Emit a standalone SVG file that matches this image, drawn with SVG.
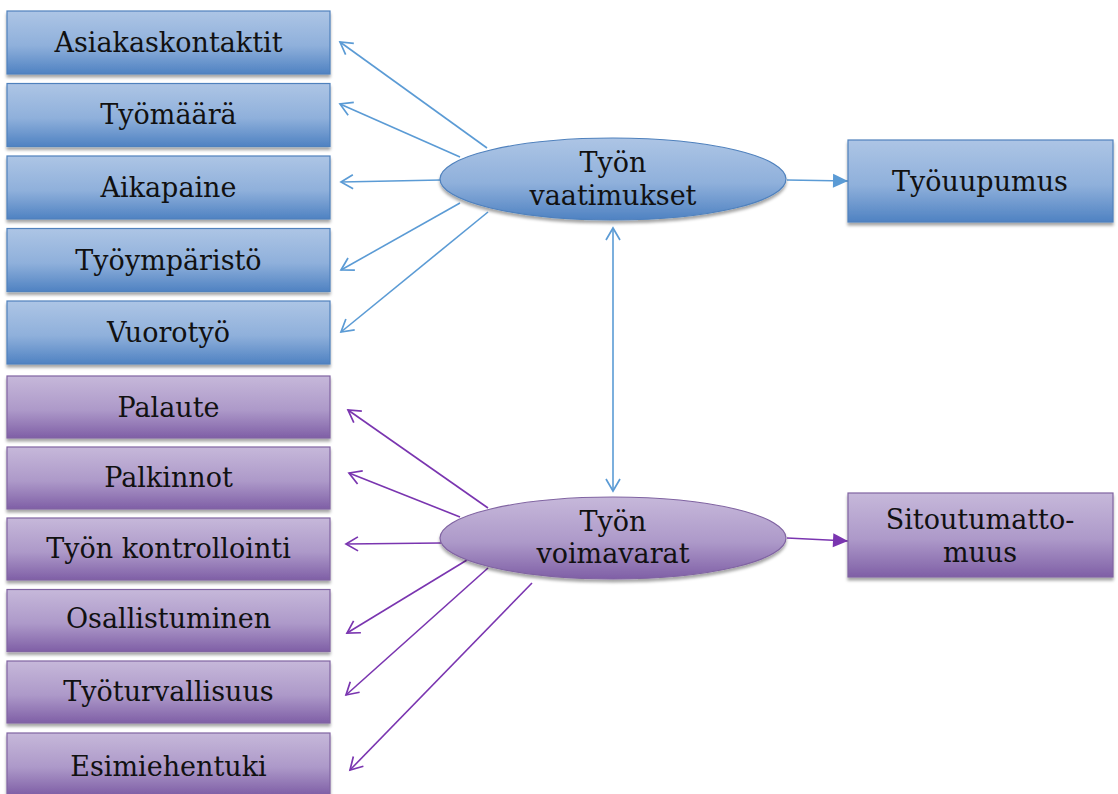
<svg xmlns="http://www.w3.org/2000/svg" width="1118" height="794" viewBox="0 0 1118 794">
<defs>
<linearGradient id="gb" x1="0" y1="0" x2="0" y2="1">
<stop offset="0" stop-color="#adc5e5"/><stop offset="0.55" stop-color="#8fb0db"/><stop offset="1" stop-color="#4f82c2"/>
</linearGradient>
<linearGradient id="gp" x1="0" y1="0" x2="0" y2="1">
<stop offset="0" stop-color="#c6b8da"/><stop offset="0.55" stop-color="#ad99c9"/><stop offset="1" stop-color="#7f5fa6"/>
</linearGradient>
<filter id="sh" x="-5%" y="-10%" width="110%" height="130%">
<feDropShadow dx="0" dy="3" stdDeviation="1.5" flood-color="#000" flood-opacity="0.35"/>
</filter>
<marker id="ob" markerUnits="userSpaceOnUse" markerWidth="20" markerHeight="20" viewBox="-14 -10 16 20" refX="0" refY="0" orient="auto-start-reverse">
<path d="M-12,-7 L0,0 L-12,7" fill="none" stroke="#5b9bd5" stroke-width="1.7"/>
</marker>
<marker id="op" markerUnits="userSpaceOnUse" markerWidth="20" markerHeight="20" viewBox="-14 -10 16 20" refX="0" refY="0" orient="auto">
<path d="M-12,-7 L0,0 L-12,7" fill="none" stroke="#7a35b0" stroke-width="1.7"/>
</marker>
<marker id="fb" markerUnits="userSpaceOnUse" markerWidth="20" markerHeight="20" viewBox="-16 -10 18 20" refX="0" refY="0" orient="auto">
<path d="M-15,-7 L0,0 L-15,7 Z" fill="#5b9bd5"/>
</marker>
<marker id="fp" markerUnits="userSpaceOnUse" markerWidth="20" markerHeight="20" viewBox="-16 -10 18 20" refX="0" refY="0" orient="auto">
<path d="M-15,-7 L0,0 L-15,7 Z" fill="#7a35b0"/>
</marker>
</defs>
<style>
.bb{fill:url(#gb);stroke:#4f81bd;stroke-width:1.2;filter:url(#sh)}
.pb{fill:url(#gp);stroke:#8064a2;stroke-width:1.2;filter:url(#sh)}
.t{font-family:"DejaVu Serif","Liberation Serif",serif;font-size:27px;fill:#111;text-anchor:middle}
.lb{stroke:#5b9bd5;stroke-width:1.6;fill:none}
.lp{stroke:#7a35b0;stroke-width:1.6;fill:none}
</style>
<rect width="1118" height="794" fill="#fff"/>

<g id="connectors">
<line class="lb" x1="487" y1="148" x2="340" y2="42" marker-end="url(#ob)"/>
<line class="lb" x1="460" y1="157" x2="340" y2="104" marker-end="url(#ob)"/>
<line class="lb" x1="441" y1="180" x2="341" y2="182" marker-end="url(#ob)"/>
<line class="lb" x1="460" y1="203" x2="341" y2="270" marker-end="url(#ob)"/>
<line class="lb" x1="488" y1="212" x2="341" y2="332" marker-end="url(#ob)"/>
<line class="lb" x1="613" y1="228" x2="613" y2="491" marker-start="url(#ob)" marker-end="url(#ob)"/>
<line class="lb" x1="787" y1="180" x2="848" y2="181" marker-end="url(#fb)"/>
<line class="lp" x1="488" y1="508" x2="348" y2="410" marker-end="url(#op)"/>
<line class="lp" x1="460" y1="517" x2="349" y2="473" marker-end="url(#op)"/>
<line class="lp" x1="441" y1="543" x2="346" y2="544" marker-end="url(#op)"/>
<line class="lp" x1="467" y1="560" x2="347" y2="633" marker-end="url(#op)"/>
<line class="lp" x1="488" y1="568" x2="346" y2="695" marker-end="url(#op)"/>
<line class="lp" x1="532" y1="583" x2="350" y2="770" marker-end="url(#op)"/>
<line class="lp" x1="787" y1="538" x2="848" y2="541" marker-end="url(#fp)"/>
</g>

<g id="n-asiakaskontaktit"><rect class="bb" x="7" y="11" width="323" height="63"/><text class="t" x="168.5" y="52">Asiakaskontaktit</text></g>
<g id="n-tyomaara"><rect class="bb" x="7" y="83.5" width="323" height="63"/><text class="t" x="168.5" y="124">Työmäärä</text></g>
<g id="n-aikapaine"><rect class="bb" x="7" y="156" width="323" height="63"/><text class="t" x="168.5" y="197">Aikapaine</text></g>
<g id="n-tyoymparisto"><rect class="bb" x="7" y="228.5" width="323" height="63"/><text class="t" x="168.5" y="270">Työympäristö</text></g>
<g id="n-vuorotyo"><rect class="bb" x="7" y="301" width="323" height="63"/><text class="t" x="168.5" y="342">Vuorotyö</text></g>

<g id="n-palaute"><rect class="pb" x="7" y="376" width="323" height="62"/><text class="t" x="168.5" y="417">Palaute</text></g>
<g id="n-palkinnot"><rect class="pb" x="7" y="447" width="323" height="62"/><text class="t" x="168.5" y="487">Palkinnot</text></g>
<g id="n-kontrollointi"><rect class="pb" x="7" y="518" width="323" height="62"/><text class="t" x="168.5" y="558">Työn kontrollointi</text></g>
<g id="n-osallistuminen"><rect class="pb" x="7" y="589.5" width="323" height="62"/><text class="t" x="168.5" y="628">Osallistuminen</text></g>
<g id="n-tyoturvallisuus"><rect class="pb" x="7" y="661" width="323" height="62"/><text class="t" x="168.5" y="701">Työturvallisuus</text></g>
<g id="n-esimiehentuki"><rect class="pb" x="7" y="733" width="323" height="62"/><text class="t" x="168.5" y="776">Esimiehentuki</text></g>

<g id="n-vaatimukset"><ellipse class="bb" cx="613" cy="179" rx="173" ry="41"/><text class="t" x="613" y="172">Työn</text><text class="t" x="613" y="205">vaatimukset</text></g>
<g id="n-voimavarat"><ellipse class="pb" cx="613" cy="538" rx="173" ry="41"/><text class="t" x="613" y="531">Työn</text><text class="t" x="613" y="563">voimavarat</text></g>

<g id="n-tyouupumus"><rect class="bb" x="848" y="140" width="265" height="82"/><text class="t" x="980" y="191">Työuupumus</text></g>
<g id="n-sitoutumattomuus"><rect class="pb" x="848" y="493" width="265" height="84"/><text class="t" x="980" y="529">Sitoutumatto-</text><text class="t" x="980" y="562">muus</text></g>
</svg>
